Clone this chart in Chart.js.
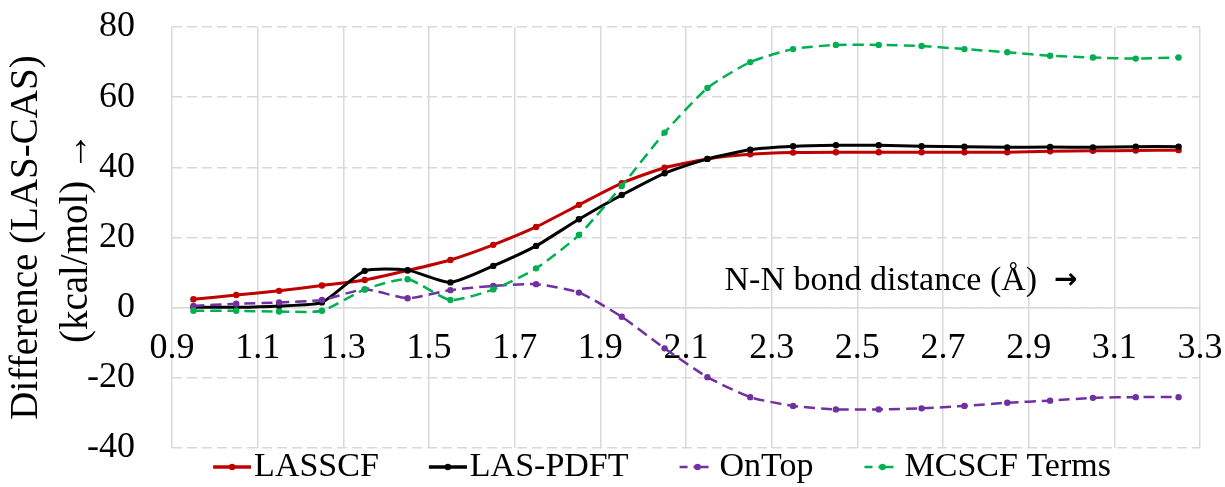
<!DOCTYPE html>
<html>
<head>
<meta charset="utf-8">
<script src="https://cdn.jsdelivr.net/npm/chart.js"></script>
<style>
  html, body { margin: 0; padding: 0; background: #ffffff; }
  #c { display: block; }
</style>
</head>
<body>
<canvas id="c" width="1225" height="487"></canvas>
<script>
// ---- data ----
const bondDistance = [0.95, 1.05, 1.15, 1.25, 1.35, 1.45, 1.55, 1.65, 1.75, 1.85, 1.95, 2.05,
                      2.15, 2.25, 2.35, 2.45, 2.55, 2.65, 2.75, 2.85, 2.95, 3.05, 3.15, 3.25];
const lasscf   = [2.4, 3.6, 4.8, 6.3, 7.9, 10.6, 13.6, 17.9, 23.0, 29.3, 35.5, 39.9,
                  42.4, 43.7, 44.2, 44.3, 44.3, 44.3, 44.3, 44.3, 44.6, 44.7, 44.8, 44.9];
const lasPdft  = [0.1, 0.1, 0.5, 1.5, 10.5, 10.7, 7.2, 11.9, 17.6, 25.2, 32.1, 38.3,
                  42.4, 45.0, 46.0, 46.3, 46.3, 46.0, 45.9, 45.7, 45.8, 45.7, 45.9, 45.9];
const onTop    = [0.5, 1.1, 1.5, 2.2, 5.2, 2.7, 5.0, 6.2, 6.7, 4.3, -2.6, -11.6,
                  -19.8, -25.5, -28.0, -29.0, -29.0, -28.7, -28.0, -27.1, -26.5, -25.7, -25.5, -25.5];
const mcscf    = [-0.9, -0.9, -1.1, -0.9, 5.2, 8.1, 2.2, 5.2, 11.2, 20.7, 34.7, 49.9,
                  62.6, 70.0, 73.7, 74.9, 74.9, 74.6, 73.7, 72.8, 71.8, 71.3, 71.0, 71.3];
const seriesNames = ["LASSCF", "LAS-PDFT", "OnTop", "MCSCF Terms"];
const xTickValues = [0.9, 1.1, 1.3, 1.5, 1.7, 1.9, 2.1, 2.3, 2.5, 2.7, 2.9, 3.1, 3.3];
const yTickValues = [-40, -20, 0, 20, 40, 60, 80];
const yTitle = ["Difference (LAS-CAS)", "(kcal/mol) \u2192"];
const annotationText = "N-N bond distance (\u00C5)";
const annotationArrow = "\u2192";

// ---- styling ----
const FONT = "'Liberation Serif', 'Times New Roman', serif";
const colors = ["#c00000", "#000000", "#7030a0", "#00b050"];
const dashed = [false, false, true, true];
const PW = 72;

function legendImage(color, isDashed) {
  const W = PW + 28, H = 14;
  const c = document.createElement('canvas');
  c.width = W; c.height = H;
  const g = c.getContext('2d');
  g.strokeStyle = color; g.fillStyle = color;
  const x0 = W - 38, y = H / 2;
  g.lineWidth = isDashed ? 2.5 : 3.5;
  g.beginPath();
  if (!isDashed) {
    g.moveTo(x0, y); g.lineTo(x0 + 38, y);
  } else {
    g.moveTo(x0 + 1, y); g.lineTo(x0 + 9, y);
    g.moveTo(x0 + 15, y); g.lineTo(x0 + 30, y);
  }
  g.stroke();
  g.beginPath();
  g.arc(x0 + 19, y, 3.2, 0, Math.PI * 2);
  g.fill();
  return c;
}

function mk(values) { return bondDistance.map((x, i) => ({ x: x, y: values[i] })); }
const allSeries = [lasscf, lasPdft, onTop, mcscf];

const datasets = allSeries.map((vals, i) => ({
  label: seriesNames[i],
  data: mk(vals),
  borderColor: colors[i],
  backgroundColor: colors[i],
  borderWidth: dashed[i] ? 2.5 : 3,
  borderDash: dashed[i] ? [11, 6] : [],
  pointRadius: 3.2,
  pointBorderWidth: 0,
  pointBackgroundColor: colors[i],
  tension: 0.2,
  order: 4 - i,
  fill: false
}));

const annotationPlugin = {
  id: 'annot',
  afterDraw(chart) {
    const { ctx, scales } = chart;
    const x = scales.x.getPixelForValue(2.19);
    const y = scales.y.getPixelForValue(5);
    ctx.save();
    ctx.font = "34px " + FONT;
    ctx.fillStyle = '#000';
    ctx.textBaseline = 'alphabetic';
    ctx.textAlign = 'left';
    ctx.fillText(annotationText, x, y);
    const w = ctx.measureText(annotationText + "  ").width;
    ctx.font = "bold 28px 'DejaVu Sans', sans-serif";
    ctx.fillText(annotationArrow, x + w, y - 2);
    ctx.restore();
  }
};

const bgPlugin = {
  id: 'bg',
  beforeDraw(chart) {
    const ctx = chart.ctx;
    ctx.save();
    ctx.fillStyle = '#fff';
    ctx.fillRect(0, 0, chart.width, chart.height);
    ctx.restore();
  }
};

new Chart(document.getElementById('c'), {
  type: 'line',
  data: { datasets: datasets },
  plugins: [bgPlugin, annotationPlugin],
  options: {
    responsive: false,
    devicePixelRatio: 1,
    animation: false,
    layout: { padding: { left: 76, right: 25, top: 27, bottom: -7 } },
    plugins: {
      tooltip: { enabled: false },
      legend: {
        position: 'bottom',
        align: 'center',
        labels: {
          usePointStyle: true,
          pointStyleWidth: PW,
          padding: 2,
          color: '#000',
          font: { family: FONT, size: 34 },
          generateLabels(chart) {
            return chart.data.datasets.map((ds, i) => ({
              text: ds.label,
              pointStyle: legendImage(colors[i], dashed[i]),
              fillStyle: colors[i],
              strokeStyle: colors[i],
              lineWidth: 0,
              hidden: false,
              datasetIndex: i,
              fontColor: '#000'
            }));
          }
        }
      }
    },
    scales: {
      x: {
        type: 'linear',
        position: { y: 0 },
        min: 0.9,
        max: 3.3,
        afterBuildTicks(scale) { scale.ticks = xTickValues.map(v => ({ value: v })); },
        afterFit(scale) { scale.paddingLeft = 0; scale.paddingRight = 0; },
        ticks: {
          color: '#000',
          padding: 19,
          font: { family: FONT, size: 36 },
          maxRotation: 0,
          autoSkip: false,
          callback: (v) => Number(v).toFixed(1)
        },
        grid: { color: '#d9d9d9', lineWidth: 1.5, drawTicks: false },
        border: { display: true, color: '#d9d9d9', width: 1.5 }
      },
      y: {
        type: 'linear',
        position: 'left',
        min: -40,
        max: 80,
        afterBuildTicks(scale) { scale.ticks = yTickValues.map(v => ({ value: v })); },
        afterFit(scale) { scale.width = 96; scale.paddingTop = 0; scale.paddingBottom = 0; },
        ticks: {
          color: '#000',
          padding: 37,
          font: { family: FONT, size: 36 },
          callback: (v) => String(v)
        },
        grid: { color: '#d9d9d9', lineWidth: 1.5, drawTicks: false },
        border: { display: false, dash: [10, 5] },
        title: {
          display: true,
          text: yTitle,
          color: '#000',
          font: { family: FONT, size: 39, lineHeight: 1.28 },
          padding: { top: -74, bottom: 0 }
        }
      }
    }
  }
});
</script>
</body>
</html>
